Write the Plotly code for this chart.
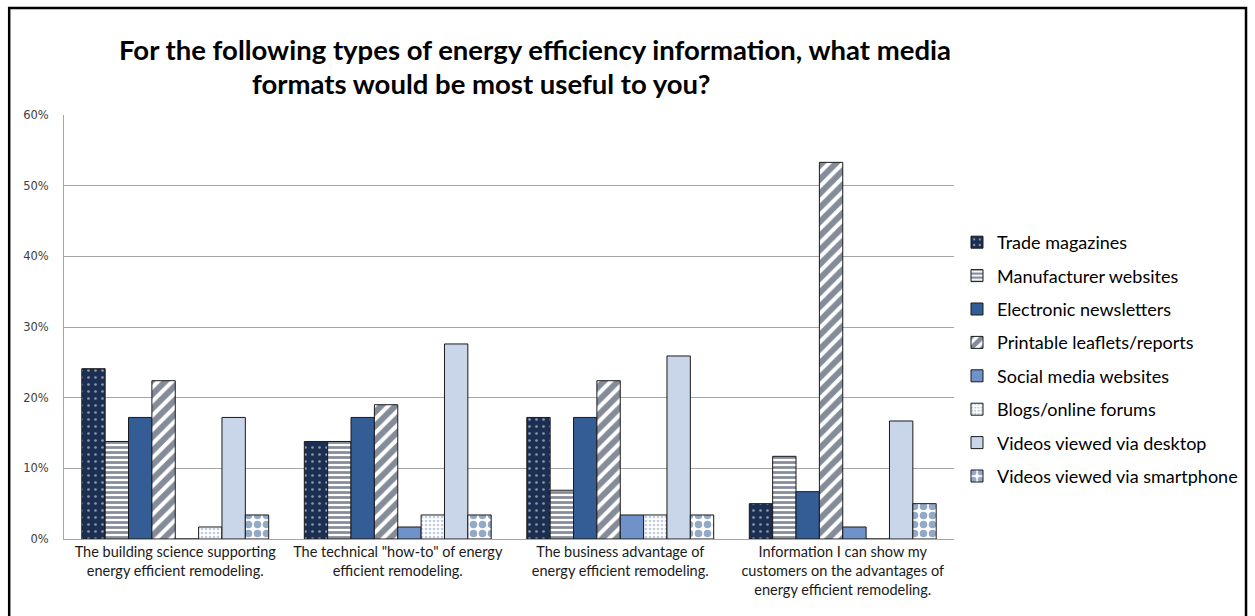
import plotly.graph_objects as go

categories = [
    "The building science supporting<br>energy efficient remodeling.",
    "The technical \"how-to\" of energy<br>efficient remodeling.",
    "The business advantage of<br>energy efficient remodeling.",
    "Information I can show my<br>customers on the advantages of<br>energy efficient remodeling.",
]
series_names = [
    "Trade magazines",
    "Manufacturer websites",
    "Electronic newsletters",
    "Printable leaflets/reports",
    "Social media websites",
    "Blogs/online forums",
    "Videos viewed via desktop",
    "Videos viewed via smartphone",
]
trade_magazines = [0.241, 0.138, 0.172, 0.050]
manufacturer_websites = [0.138, 0.138, 0.069, 0.117]
electronic_newsletters = [0.172, 0.172, 0.172, 0.067]
printable_leaflets = [0.224, 0.190, 0.224, 0.533]
social_media = [0.0, 0.017, 0.034, 0.017]
blogs_forums = [0.017, 0.034, 0.034, 0.0]
videos_desktop = [0.172, 0.276, 0.259, 0.167]
videos_smartphone = [0.034, 0.034, 0.034, 0.050]
y_ticks = [0, 0.1, 0.2, 0.3, 0.4, 0.5, 0.6]
title_line1 = "For the following types of energy efficiency information, what media"
title_line2 = "formats would be most useful to you?"

series_values = [trade_magazines, manufacturer_websites, electronic_newsletters,
                 printable_leaflets, social_media, blogs_forums, videos_desktop,
                 videos_smartphone]

styles = [
    dict(color="#1b2f52", pattern=dict(shape=".", fgcolor="#ffffff", bgcolor="#1b2f52", size=7, solidity=0.12)),
    dict(color="#ffffff", pattern=dict(shape="-", fgcolor="#0b1a33", bgcolor="#ffffff", size=5, solidity=0.55)),
    dict(color="#345c95", pattern=dict(shape="")),
    dict(color="#ffffff", pattern=dict(shape="/", fgcolor="#0b1a33", bgcolor="#ffffff", size=10, solidity=0.6)),
    dict(color="#6f93c8", pattern=dict(shape="")),
    dict(color="#ffffff", pattern=dict(shape=".", fgcolor="#7f98bf", bgcolor="#ffffff", size=4, solidity=0.35)),
    dict(color="#c9d6e9", pattern=dict(shape="")),
    dict(color="#ffffff", pattern=dict(shape=".", fgcolor="#2a5290", bgcolor="#ffffff", size=9, solidity=0.55)),
]

fig = go.Figure()
for i, (name, vals) in enumerate(zip(series_names, series_values)):
    st = styles[i]
    fig.add_trace(go.Bar(
        x=categories, y=vals, name=name, legendgroup=name,
        marker=dict(color=st["color"], pattern=st["pattern"],
                    line=dict(color="#1a1a1a", width=1)),
    ))

# plot area in pixels: x 64..957, y 115..539
L, R, T, B = 64, 957, 115, 539
W, H = R - L, B - T
FW, FH = 1255, 616

def px_to_paper_x(px):
    return (px - L) / W

def px_to_paper_y(py):
    return (B - py) / H

fig.add_shape(type="rect", xref="paper", yref="paper",
              x0=px_to_paper_x(9), x1=px_to_paper_x(1250),
              y0=px_to_paper_y(640), y1=px_to_paper_y(8),
              line=dict(color="black", width=2.5), fillcolor="rgba(0,0,0,0)", layer="below")

title_font = dict(size=27.5, color="black", family="Lato, Carlito, sans-serif")
fig.add_annotation(text="<b>" + title_line1 + "</b>", xref="paper", yref="paper",
                   x=px_to_paper_x(537), y=px_to_paper_y(50), xanchor="center", yanchor="middle",
                   showarrow=False, font=title_font)
fig.add_annotation(text="<b>" + title_line2 + "</b>", xref="paper", yref="paper",
                   x=px_to_paper_x(482), y=px_to_paper_y(83), xanchor="center", yanchor="middle",
                   showarrow=False, font=title_font)

fig.update_layout(
    width=FW, height=FH,
    margin=dict(l=L, r=FW - R, t=T, b=FH - B),
    paper_bgcolor="white", plot_bgcolor="white",
    barmode="group", bargap=0.16, bargroupgap=0,
    font=dict(family="Lato, Carlito, 'Open Sans', sans-serif", color="#262626"),
    legend=dict(
        x=px_to_paper_x(960), y=px_to_paper_y(224), xanchor="left", yanchor="top",
        font=dict(size=18, color="black", family="Lato, Carlito, sans-serif"),
        tracegroupgap=7, itemwidth=30, bgcolor="rgba(0,0,0,0)",
    ),
    yaxis=dict(
        range=[0, 0.6], tickvals=y_ticks, tickformat=".0%",
        showgrid=True, gridcolor="#a6a6a6", gridwidth=1,
        showline=True, linecolor="#a6a6a6", linewidth=1,
        zeroline=False, ticks="", ticklabelstandoff=12,
        tickfont=dict(size=11.5, color="#404040", family="Verdana, 'DejaVu Sans', sans-serif"),
    ),
    xaxis=dict(
        showline=True, linecolor="#a6a6a6", linewidth=1,
        tickfont=dict(size=14.5, color="#1a1a1a", family="Lato, Carlito, sans-serif"),
        tickangle=0,
    ),
)

fig.write_html("out.html", config={"displayModeBar": False},
               post_script="document.body.style.margin='0px';")
